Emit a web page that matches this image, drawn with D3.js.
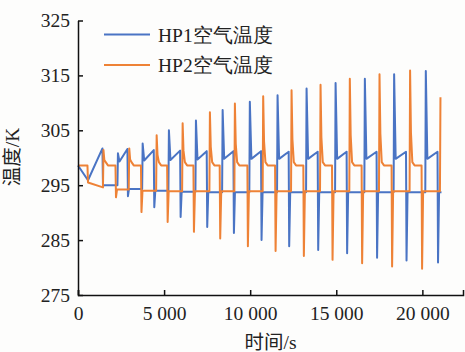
<!DOCTYPE html>
<html>
<head>
<meta charset="utf-8">
<script src="https://cdn.jsdelivr.net/npm/d3@7"></script>
<style>
body { margin: 0; background: #fff; }
svg { display: block; font-family: "Liberation Serif", "Times New Roman", "DejaVu Serif", "Noto Sans CJK SC", serif; }
</style>
</head>
<body>
<div id="chart"></div>
<script>
// switching times (s) and temperatures (K)
// HP1 (blue)
var hp1UpTime    = [580, 2320, 3755, 5280, 6850, 8400, 9980, 11590, 13275, 14960, 16660, 18360, 20200];
var hp1Peak      = [295.9, 300.8, 302.6, 305.0, 306.8, 308.7, 310.2, 311.4, 312.6, 313.6, 314.4, 315.2, 315.8];
var hp1RampStart = [295.9, 299.3, 299.5, 299.6, 299.7, 299.8, 299.8, 299.8, 299.8, 299.8, 299.8, 299.8, 299.8];
var hp1RampEnd   = [301.7, 301.6, 301.4, 301.3, 301.2, 301.2, 301.2, 301.1, 301.1, 301.1, 301.1, 301.1, 301.1];
var hp1DownTime  = [1450, 2900, 4430, 5960, 7505, 9055, 10660, 12265, 13950, 15630, 17370, 19080, 20910];
var hp1Dip       = [294.8, 293.0, 291.0, 289.2, 287.4, 286.3, 285.0, 283.9, 283.2, 282.6, 281.8, 281.3, 280.9];
var hp1Low       = [295.0, 294.3, 294.0, 293.8, 293.7, 293.7, 293.7, 293.7, 293.7, 293.7, 293.7, 293.7, 293.7];
var hp1Start = 298.6, hp1End = 21110;

// HP2 (orange)
var hp2DownTime = [580, 2206, 3686, 5206, 6733, 8259, 9867, 11475, 13117, 14783, 16501, 18242, 19984];
var hp2Dip      = [295.5, 292.8, 290.1, 288.3, 286.5, 285.3, 283.9, 283.0, 282.1, 281.4, 280.8, 280.2, 279.8];
var hp2Low      = [294.6, 294.2, 294.0, 293.9, 293.9, 293.9, 293.9, 293.9, 293.9, 293.9, 293.9, 293.9, 293.9];
var hp2UpTime   = [1480, 2977, 4568, 6077, 7661, 9112, 10755, 12403, 14086, 15787, 17511, 19287, 21051];
var hp2Peak     = [301.4, 301.7, 304.1, 306.3, 308.3, 309.9, 311.2, 312.3, 313.3, 314.4, 315.2, 315.9, 311.0];
var hp2High = 298.6;

var xTicks = [0, 5000, 10000, 15000, 20000];
var yTicks = [275, 285, 295, 305, 315, 325];
var seriesNames = ["HP1空气温度", "HP2空气温度"];
var seriesColors = ["#4a74c4", "#ee8236"];

// build the two traces from the switching events
var hp1 = [[0, hp1Start]];
hp1UpTime.forEach(function (t, i) {
    if (i > 0) {
        hp1.push([t - 30, hp1Low[i - 1]]);
        hp1.push([t, hp1Peak[i]]);
        hp1.push([t + 90, hp1RampStart[i]]);
    } else {
        hp1.push([t, hp1RampStart[i]]);
    }
    hp1.push([hp1DownTime[i] - 30, hp1RampEnd[i]]);
    hp1.push([hp1DownTime[i], hp1Dip[i]]);
    hp1.push([hp1DownTime[i] + 60, hp1Low[i]]);
});
hp1.push([hp1End, hp1Low[hp1Low.length - 1]]);

var hp2 = [[0, hp2High]];
hp2DownTime.forEach(function (t, i) {
    hp2.push([t - 30, hp2High]);
    hp2.push([t, hp2Dip[i]]);
    if (hp2Dip[i] < hp2Low[i]) hp2.push([t + 60, hp2Low[i]]);
    var u = hp2UpTime[i], p = hp2Peak[i];
    hp2.push([u - 30, hp2Low[i]]);
    hp2.push([u, p]);
    if (i < hp2UpTime.length - 1) {
        hp2.push([u + 50, hp2High + (p - hp2High) * 0.35]);
        hp2.push([u + 130, hp2High + 0.6]);
        hp2.push([u + 260, hp2High]);
    }
});

var W = 465, H = 352;
var serif = "'Liberation Serif', 'Times New Roman', 'DejaVu Serif', serif";
var svg = d3.select("#chart").append("svg")
    .attr("width", W)
    .attr("height", H);

svg.append("rect").attr("width", W).attr("height", H).attr("fill", "#fdfdfc");

var x = d3.scaleLinear().domain([0, 22360]).range([78, 463]);
var y = d3.scaleLinear().domain([275, 325]).range([295, 20.5]);

var line = d3.line()
    .x(function (d) { return x(d[0]); })
    .y(function (d) { return y(d[1]); });

[hp1, hp2].forEach(function (s, i) {
    svg.append("path")
        .datum(s)
        .attr("fill", "none")
        .attr("stroke", seriesColors[i])
        .attr("stroke-width", 2)
        .attr("stroke-linejoin", "round")
        .attr("d", line);
});

// axes
svg.append("g")
    .attr("transform", "translate(0," + y(275) + ")")
    .call(d3.axisBottom(x)
        .tickValues(xTicks)
        .tickSizeInner(-5)
        .tickSizeOuter(-5)
        .tickPadding(11)
        .tickFormat(function (d) { return d3.format(",")(d).replace(",", " "); }));

svg.append("g")
    .attr("transform", "translate(" + x(0) + ",0)")
    .call(d3.axisLeft(y)
        .tickValues(yTicks)
        .tickSizeInner(-5)
        .tickSizeOuter(0)
        .tickPadding(8));

svg.selectAll("g").attr("font-family", serif);
svg.selectAll(".domain, .tick line")
    .attr("stroke", "#111")
    .attr("stroke-width", 1.5);
svg.selectAll(".tick text")
    .attr("fill", "#222")
    .style("font-size", "19.5px")
    .style("font-family", serif);

// axis titles
svg.append("text")
    .attr("x", (x.range()[0] + x.range()[1]) / 2)
    .attr("y", 349)
    .attr("text-anchor", "middle")
    .attr("fill", "#222")
    .style("font-size", "19.5px")
    .text("时间/s");

svg.append("text")
    .attr("transform", "translate(12.5,157) rotate(-90)")
    .attr("dy", "0.35em")
    .attr("text-anchor", "middle")
    .attr("fill", "#222")
    .style("font-size", "19.5px")
    .text("温度/K");

// legend
var legend = svg.append("g");
seriesNames.forEach(function (name, i) {
    var ly = 34.5 + i * 30.5;
    legend.append("line")
        .attr("x1", 104).attr("x2", 150)
        .attr("y1", ly).attr("y2", ly)
        .attr("stroke", seriesColors[i])
        .attr("stroke-width", 2);
    legend.append("text")
        .attr("x", 158)
        .attr("y", ly + 7)
        .attr("fill", "#222")
        .style("font-size", "19.5px")
        .style("font-family", serif)
        .text(name);
});
</script>
</body>
</html>
